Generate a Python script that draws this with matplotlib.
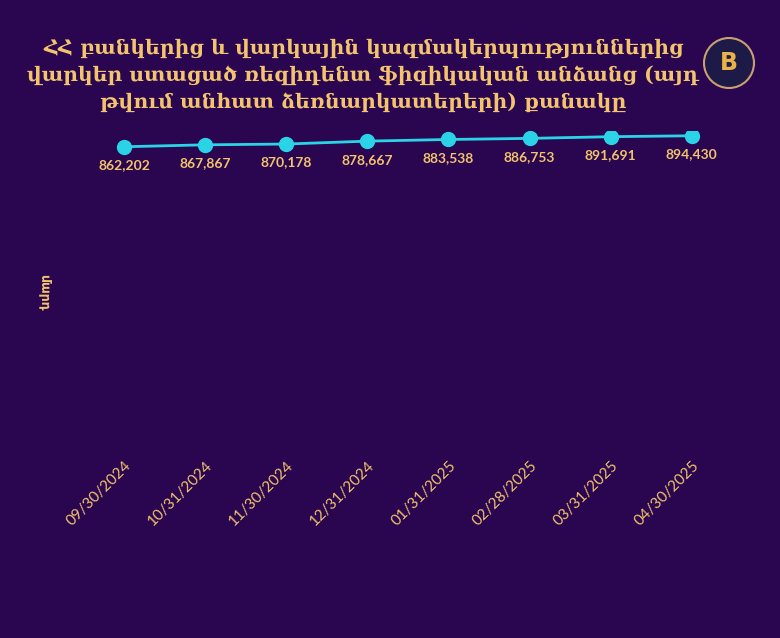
import matplotlib.pyplot as plt
from matplotlib.patches import Ellipse

# data
dates = ['09/30/2024', '10/31/2024', '11/30/2024', '12/31/2024',
         '01/31/2025', '02/28/2025', '03/31/2025', '04/30/2025']
values = [862202, 867867, 870178, 878667, 883538, 886753, 891691, 894430]

title = ('ՀՀ բանկերից և վարկային կազմակերպություններից\n'
         'վարկեր ստացած ռեզիդենտ ֆիզիկական անձանց (այդ\n'
         'թվում անհատ ձեռնարկատերերի) քանակը')
ylabel = 'մարդ'

bg = '#2a0550'
gold = '#f2c46d'
cyan = '#2ad4e6'

W, H = 780, 638
fig = plt.figure(figsize=(W / 100, H / 100), dpi=100, facecolor=bg)
ax = fig.add_axes([0.107, 0.309, 0.832, 0.486])
ax.set_facecolor(bg)

x = list(range(len(values)))
ax.plot(x, values, color=cyan, lw=2, marker='o', ms=10, zorder=3)
for xi, v in zip(x, values):
    ax.annotate(f'{v:,}', (xi, v), xytext=(0, -9), textcoords='offset points',
                ha='center', va='top', color=gold, fontsize=10,
                fontweight='bold', family='Lato')

ax.set_xlim(-0.5, 7.5)
ax.set_ylim(0, 909000)
ax.set_xticks(x)
ax.set_xticklabels(dates, rotation=45, ha='right', rotation_mode='anchor',
                   color=gold, fontsize=11, family='Lato')
ax.tick_params(axis='x', length=0, pad=13)
ax.set_yticks([])
for s in ax.spines.values():
    s.set_visible(False)

fig.text(0.057, 1 - 292 / H, ylabel, rotation=-90, color=gold, fontsize=9,
         fontweight='bold', ha='center', va='center', family='DejaVu Sans')

fig.text(0.466, 1 - 75 / H, title, color=gold, fontsize=14.7, fontweight='bold',
         family='DejaVu Serif', ha='center', va='center', linespacing=1.45)

# logo
cx, cy = 729 / W, 1 - 63 / H
fig.add_artist(Ellipse((cx, cy), 50 / W, 50 / H, transform=fig.transFigure,
                       facecolor='#1d1a48', edgecolor='#c9a070', lw=1.5))
fig.text(cx, cy, 'B', color='#e8b24a', fontsize=17,
         fontweight='bold', ha='center', va='center')

fig.savefig('out.png', dpi=100, facecolor=bg)
